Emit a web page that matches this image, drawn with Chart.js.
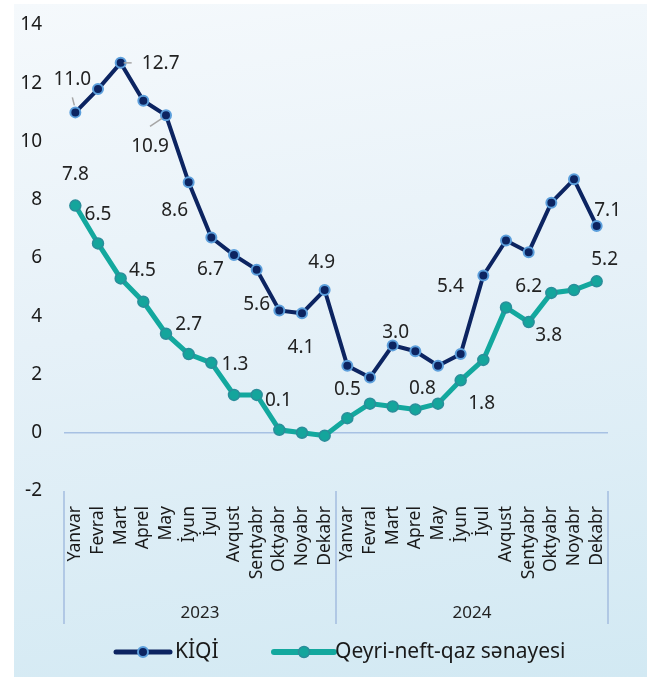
<!DOCTYPE html>
<html>
<head>
<meta charset="utf-8">
<script src="https://cdn.jsdelivr.net/npm/chart.js@4"></script>
<style>
  html, body { margin: 0; padding: 0; background: #fff; }
  #wrap { position: relative; width: 647px; height: 677px; background: #fff; }
  #panel { position: absolute; left: 14px; top: 4px; right: 0; bottom: 0;
           background: linear-gradient(172deg, #f5f9fc 0%, #e6f1f8 45%, #d2e9f3 100%); }
  #chart { position: absolute; left: 0; top: 0; }
</style>
</head>
<body>
<div id="wrap">
  <div id="panel"></div>
  <canvas id="chart" width="647" height="677"></canvas>
</div>
<script>
// data
const months = ['Yanvar', 'Fevral', 'Mart', 'Aprel', 'May', 'İyun', 'İyul', 'Avqust', 'Sentyabr', 'Oktyabr', 'Noyabr', 'Dekabr'];
const years = ['2023', '2024'];
const kiqi = [11.0, 11.8, 12.7, 11.4, 10.9, 8.6, 6.7, 6.1, 5.6, 4.2, 4.1, 4.9,
              2.3, 1.9, 3.0, 2.8, 2.3, 2.7, 5.4, 6.6, 6.2, 7.9, 8.7, 7.1];
const qeyri = [7.8, 6.5, 5.3, 4.5, 3.4, 2.7, 2.4, 1.3, 1.3, 0.1, 0.0, -0.1,
               0.5, 1.0, 0.9, 0.8, 1.0, 1.8, 2.5, 4.3, 3.8, 4.8, 4.9, 5.2];
const yTicks = [-2, 0, 2, 4, 6, 8, 10, 12, 14];

const labels = years.flatMap(() => months);

const navy = '#0c2461';
const teal = '#13a89e';
const FONT = '"Noto Sans", "Open Sans", sans-serif';

// which points carry a value label, and where the text sits relative to the point
const valueLabels = [
  { ds: 0, i: 0, dx: -3, dy: -33, lead: [-3, -15, -1, -7] },
  { ds: 0, i: 2, dx: 40, dy: 1, lead: [3, 0, 11, 0] },
  { ds: 0, i: 4, dx: -16, dy: 31, lead: [-16, 11, -4, 3] },
  { ds: 0, i: 5, dx: -14, dy: 28 },
  { ds: 0, i: 6, dx: -1, dy: 32 },
  { ds: 0, i: 8, dx: 0, dy: 35 },
  { ds: 0, i: 10, dx: -1, dy: 34 },
  { ds: 0, i: 11, dx: -3, dy: -27 },
  { ds: 0, i: 14, dx: 3, dy: -13 },
  { ds: 0, i: 18, dx: -33, dy: 11 },
  { ds: 0, i: 20, dx: 0, dy: 34 },
  { ds: 0, i: 23, dx: 11, dy: -15 },
  { ds: 1, i: 0, dx: 0, dy: -31 },
  { ds: 1, i: 1, dx: 0, dy: -29 },
  { ds: 1, i: 3, dx: -1, dy: -31 },
  { ds: 1, i: 5, dx: 0, dy: -30 },
  { ds: 1, i: 7, dx: 1, dy: -30 },
  { ds: 1, i: 9, dx: -1, dy: -29 },
  { ds: 1, i: 12, dx: 0, dy: -29 },
  { ds: 1, i: 15, dx: 7, dy: -21 },
  { ds: 1, i: 17, dx: 21, dy: 23 },
  { ds: 1, i: 20, dx: 20, dy: 14 },
  { ds: 1, i: 23, dx: 8, dy: -22 }
];

const valueLabelPlugin = {
  id: 'valueLabels',
  afterDatasetsDraw(chart) {
    const ctx = chart.ctx;
    ctx.save();
    ctx.font = '19px ' + FONT;
    ctx.fillStyle = '#222';
    ctx.textAlign = 'center';
    ctx.textBaseline = 'middle';
    valueLabels.forEach(l => {
      const pt = chart.getDatasetMeta(l.ds).data[l.i];
      const v = chart.data.datasets[l.ds].data[l.i];
      if (l.lead) {
        ctx.strokeStyle = '#a6a6a6';
        ctx.lineWidth = 1.5;
        ctx.beginPath();
        ctx.moveTo(pt.x + l.lead[0], pt.y + l.lead[1]);
        ctx.lineTo(pt.x + l.lead[2], pt.y + l.lead[3]);
        ctx.stroke();
      }
      ctx.fillText(v.toFixed(1), pt.x + l.dx, pt.y + l.dy);
    });
    ctx.restore();
  }
};

// year groups under the month labels, with divider lines
const yearGroupPlugin = {
  id: 'yearGroups',
  afterDraw(chart) {
    const ctx = chart.ctx;
    const x = chart.scales.x;
    const area = chart.chartArea;
    const step = (x.right - x.left) / labels.length;
    ctx.save();
    ctx.strokeStyle = '#a3bddf';
    ctx.lineWidth = 1.5;
    for (let g = 0; g <= years.length; g++) {
      const gx = x.left + g * months.length * step;
      ctx.beginPath();
      ctx.moveTo(gx, area.bottom);
      ctx.lineTo(gx, area.bottom + 133);
      ctx.stroke();
    }
    ctx.font = '17px ' + FONT;
    ctx.fillStyle = '#222';
    ctx.textAlign = 'center';
    ctx.textBaseline = 'middle';
    years.forEach((yr, g) => {
      const cx = x.left + (g + 0.5) * months.length * step;
      ctx.fillText(yr, cx, area.bottom + 122);
    });
    ctx.restore();
  }
};

// legend drawn by hand to match the line + dot swatches
const legendPlugin = {
  id: 'customLegend',
  afterDraw(chart) {
    const ctx = chart.ctx;
    const y = 652;
    ctx.save();
    ctx.font = '21px ' + FONT;
    ctx.textBaseline = 'middle';
    ctx.textAlign = 'left';
    const items = chart.data.datasets.map(ds => ({
      text: ds.label, color: ds.borderColor, width: ds.borderWidth,
      fill: ds.pointBackgroundColor, edge: ds.pointBorderColor, edgeW: ds.pointBorderWidth, r: ds.pointRadius
    }));
    let xs = [116, 274];
    items.forEach((it, k) => {
      const x0 = xs[k];
      const lineW = k === 0 ? 54 : 60;
      ctx.strokeStyle = it.color;
      ctx.lineWidth = it.width + 1;
      ctx.lineCap = 'round';
      ctx.beginPath();
      ctx.moveTo(x0, y);
      ctx.lineTo(x0 + lineW, y);
      ctx.stroke();
      ctx.beginPath();
      ctx.arc(x0 + lineW / 2, y, it.r, 0, Math.PI * 2);
      ctx.fillStyle = it.fill;
      ctx.fill();
      ctx.strokeStyle = it.edge;
      ctx.lineWidth = it.edgeW;
      ctx.stroke();
      ctx.fillStyle = '#1a1a1a';
      ctx.fillText(it.text, x0 + lineW + (k === 0 ? 5 : 1), y);
    });
    ctx.restore();
  }
};

new Chart(document.getElementById('chart').getContext('2d'), {
  type: 'line',
  data: {
    labels: labels,
    datasets: [
      {
        label: 'KİQİ',
        data: kiqi,
        borderColor: navy,
        borderWidth: 4,
        pointRadius: 5,
        pointBackgroundColor: navy,
        pointBorderColor: '#5c9fdc',
        pointBorderWidth: 2,
        tension: 0
      },
      {
        label: 'Qeyri-neft-qaz sənayesi',
        data: qeyri,
        borderColor: teal,
        borderWidth: 5,
        pointRadius: 5.5,
        pointBackgroundColor: '#14a59c',
        pointBorderColor: '#2a8e9a',
        pointBorderWidth: 1.5,
        tension: 0
      }
    ]
  },
  options: {
    responsive: false,
    animation: false,
    layout: { padding: { top: 25, right: 39, left: 0, bottom: 0 } },
    plugins: {
      legend: { display: false },
      tooltip: { enabled: false }
    },
    scales: {
      x: {
        offset: true,
        grid: { display: false, drawTicks: false },
        border: { display: false },
        ticks: {
          autoSkip: false,
          maxRotation: 90,
          minRotation: 90,
          padding: 15,
          color: '#1a1a1a',
          font: { family: FONT, size: 17.5 }
        },
        afterFit(scale) { scale.height = 186; }
      },
      y: {
        min: -2,
        max: 14,
        afterBuildTicks(scale) { scale.ticks = yTicks.map(v => ({ value: v })); },
        grid: {
          drawTicks: false,
          lineWidth: 1.5,
          color: ctx => ctx.tick && ctx.tick.value === 0 ? '#a7c1e3' : 'rgba(0,0,0,0)'
        },
        border: { display: false },
        ticks: {
          padding: 22,
          color: '#1a1a1a',
          font: { family: FONT, size: 19 }
        },
        afterFit(scale) {
          scale.width = 64;
          scale.paddingTop = 0;
          scale.paddingBottom = 0;
        }
      }
    }
  },
  plugins: [valueLabelPlugin, yearGroupPlugin, legendPlugin]
});
</script>
</body>
</html>
